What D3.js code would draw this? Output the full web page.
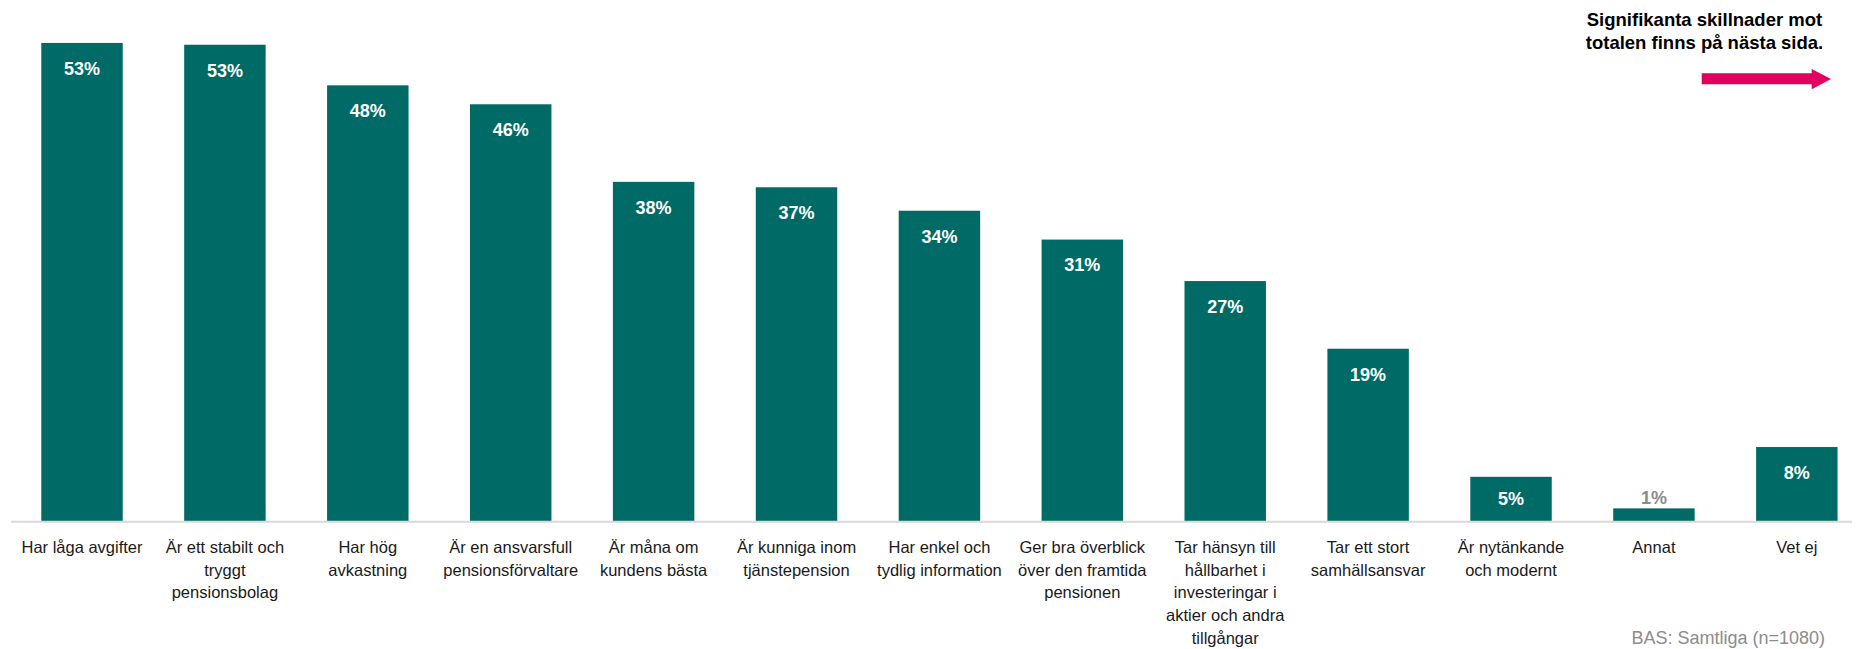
<!DOCTYPE html>
<html>
<head>
<meta charset="utf-8">
<script src="https://cdn.jsdelivr.net/npm/d3@7"></script>
<style>
  html, body { margin: 0; padding: 0; background: #ffffff; }
  svg { display: block; }
</style>
</head>
<body>
<svg id="chart" width="1856" height="649"></svg>
<script>
// ---- Data ----
const categories = [
  "Har låga avgifter",
  "Är ett stabilt och\ntryggt\npensionsbolag",
  "Har hög\navkastning",
  "Är en ansvarsfull\npensionsförvaltare",
  "Är måna om\nkundens bästa",
  "Är kunniga inom\ntjänstepension",
  "Har enkel och\ntydlig information",
  "Ger bra överblick\növer den framtida\npensionen",
  "Tar hänsyn till\nhållbarhet i\ninvesteringar i\naktier och andra\ntillgångar",
  "Tar ett stort\nsamhällsansvar",
  "Är nytänkande\noch modernt",
  "Annat",
  "Vet ej"
];
const values = [53.0, 52.8, 48.3, 46.2, 37.6, 37.0, 34.4, 31.2, 26.6, 19.1, 4.9, 1.4, 8.2];
const labels = ["53%", "53%", "48%", "46%", "38%", "37%", "34%", "31%", "27%", "19%", "5%", "1%", "8%"];
const noteLines = ["Signifikanta skillnader mot", "totalen finns på nästa sida."];
const baseText = "BAS: Samtliga (n=1080)";

// ---- Layout ----
const W = 1856, H = 649;
const baseY = 521;
const svg = d3.select("#chart");

const x = d3.scaleBand()
  .domain(categories)
  .range([11, 1852])
  .paddingInner(0.43)
  .paddingOuter(0.1565)
  .align(0.677);

const y = d3.scaleLinear().domain([0, 60]).range([baseY, baseY - 541.2]);

const TEAL = "#006B66";
const FONT = "'Liberation Sans', Arial, sans-serif";

// bars
svg.append("g").selectAll("rect")
  .data(values)
  .join("rect")
  .attr("x", (d, i) => x(categories[i]))
  .attr("y", d => y(d))
  .attr("width", x.bandwidth())
  .attr("height", d => y(0) - y(d))
  .attr("fill", TEAL);

// axis line (baseline)
svg.append("line")
  .attr("x1", 11).attr("x2", 1852)
  .attr("y1", y(0) + 0.7).attr("y2", y(0) + 0.7)
  .attr("stroke", "#d9d9d9").attr("stroke-width", 2);

// value labels
svg.append("g").selectAll("text")
  .data(values)
  .join("text")
  .attr("x", (d, i) => x(categories[i]) + x.bandwidth() / 2)
  .attr("y", d => {
    const h = y(0) - y(d);
    if (h < 30) return y(d) - 10.8 + 6.4;          // outside, above bar
    return y(d) + Math.min(25.5, h / 2) + 6.4;      // inside end
  })
  .attr("text-anchor", "middle")
  .attr("font-family", FONT)
  .attr("font-weight", "bold")
  .attr("font-size", "18px")
  .attr("fill", d => (y(0) - y(d) < 30) ? "#8c8c8c" : "#ffffff")
  .text((d, i) => labels[i]);

// category labels
const catG = svg.append("g");
categories.forEach((c, i) => {
  const t = catG.append("text")
    .attr("x", x(c) + x.bandwidth() / 2)
    .attr("y", 552.7)
    .attr("text-anchor", "middle")
    .attr("font-family", FONT)
    .attr("font-size", "16.5px")
    .attr("fill", "#1a1a1a");
  c.split("\n").forEach((line, j) => {
    t.append("tspan")
      .attr("x", x(c) + x.bandwidth() / 2)
      .attr("dy", j === 0 ? 0 : 22.8)
      .text(line);
  });
});

// top-right note
const note = svg.append("text")
  .attr("x", 1704.5).attr("y", 26)
  .attr("text-anchor", "middle")
  .attr("font-family", FONT)
  .attr("font-weight", "bold")
  .attr("font-size", "18.5px")
  .attr("fill", "#000000");
noteLines.forEach((l, j) => {
  note.append("tspan").attr("x", 1704.5).attr("dy", j === 0 ? 0 : 23.3).text(l);
});

// pink arrow
svg.append("path")
  .attr("d", "M1701.7,73.3 L1811.7,73.3 L1811.7,69 L1831,79 L1811.7,89.3 L1811.7,84.3 L1701.7,84.3 Z")
  .attr("fill", "#E1005F");

// base footnote
svg.append("text")
  .attr("x", 1825).attr("y", 644)
  .attr("text-anchor", "end")
  .attr("font-family", FONT)
  .attr("font-size", "18px")
  .attr("fill", "#8c8c8c")
  .text(baseText);
</script>
</body>
</html>
